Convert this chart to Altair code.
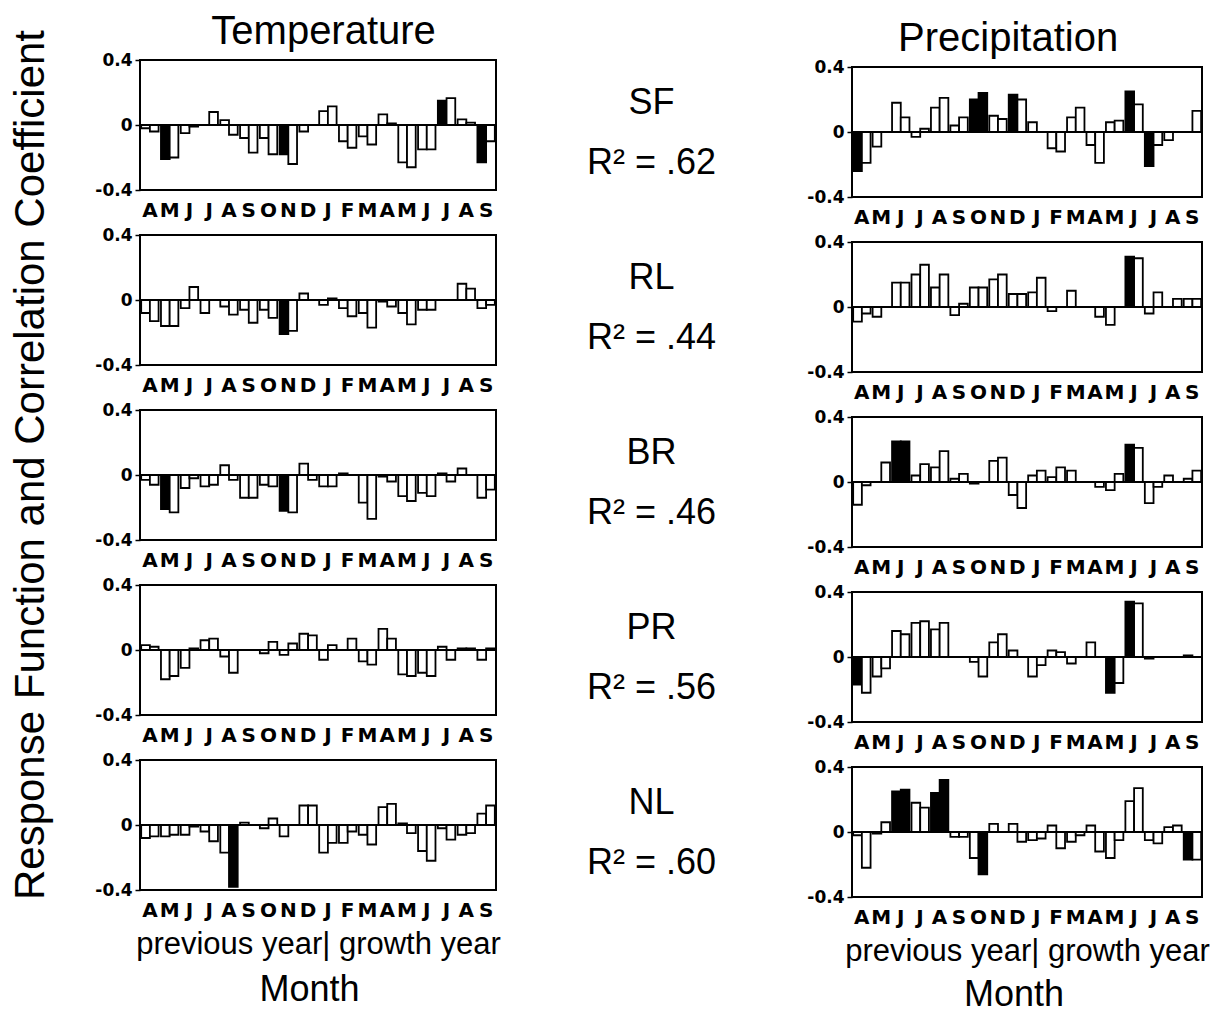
import altair as alt
import pandas as pd

FONT = "Liberation Sans"
AXFONT = "DejaVu Sans"

months = ["A", "M", "J", "J", "A", "S", "O", "N", "D", "J", "F", "M", "A", "M", "J", "J", "A", "S"]
sites = ["SF", "RL", "BR", "PR", "NL"]
r2_values = [".62", ".44", ".46", ".56", ".60"]
y_ticks = [-0.4, -0.3, -0.2, -0.1, 0.0, 0.1, 0.2, 0.3, 0.4]

# Temperature: two bars per month (response function, correlation coefficient)
temp_SF = [-0.02, -0.04, -0.21, -0.20, -0.05, -0.01, 0.0, 0.08, 0.03, -0.06, -0.08, -0.17,
           -0.08, -0.18, -0.18, -0.24, -0.04, 0.0, 0.085, 0.115, -0.10, -0.14, -0.07, -0.12,
           0.065, 0.01, -0.23, -0.26, -0.15, -0.15, 0.15, 0.165, 0.035, 0.015, -0.23, -0.10]
temp_RL = [-0.08, -0.13, -0.16, -0.16, -0.05, 0.08, -0.08, 0.0, -0.04, -0.09, -0.06, -0.14,
           -0.06, -0.11, -0.21, -0.19, 0.04, 0.0, -0.03, 0.01, -0.05, -0.10, -0.08, -0.17,
           -0.01, -0.04, -0.08, -0.15, -0.06, -0.06, 0.0, 0.0, 0.10, 0.07, -0.05, -0.03]
temp_BR = [-0.03, -0.06, -0.21, -0.23, -0.08, -0.02, -0.07, -0.06, 0.06, -0.03, -0.14, -0.14,
           -0.06, -0.07, -0.22, -0.23, 0.07, -0.03, -0.07, -0.07, 0.01, 0.0, -0.17, -0.27,
           -0.01, -0.04, -0.13, -0.16, -0.11, -0.13, 0.01, -0.04, 0.04, 0.0, -0.14, -0.09]
temp_PR = [0.03, 0.02, -0.18, -0.16, -0.11, 0.01, 0.06, 0.07, -0.04, -0.14, 0.0, 0.0,
           -0.02, 0.05, -0.03, 0.04, 0.10, 0.09, -0.06, 0.03, 0.0, 0.07, -0.07, -0.09,
           0.13, 0.07, -0.15, -0.16, -0.14, -0.16, 0.02, -0.06, 0.01, 0.01, -0.06, 0.01]
temp_NL = [-0.08, -0.07, -0.07, -0.06, -0.06, -0.01, -0.04, -0.10, -0.17, -0.38, 0.015, 0.0,
           -0.02, 0.04, -0.07, 0.0, 0.12, 0.12, -0.17, -0.11, -0.11, -0.04, -0.06, -0.12,
           0.11, 0.13, 0.01, -0.05, -0.16, -0.22, -0.02, -0.09, -0.06, -0.05, 0.07, 0.12]

# Precipitation
prec_SF = [-0.24, -0.19, -0.09, 0.0, 0.18, 0.09, -0.03, 0.02, 0.15, 0.21, 0.04, 0.09,
           0.20, 0.24, 0.10, 0.08, 0.23, 0.20, 0.06, 0.0, -0.10, -0.12, 0.09, 0.15,
           -0.08, -0.19, 0.06, 0.07, 0.25, 0.17, -0.21, -0.08, -0.05, 0.0, 0.0, 0.13]
prec_RL = [-0.09, -0.04, -0.06, 0.0, 0.15, 0.15, 0.20, 0.26, 0.12, 0.20, -0.05, 0.02,
           0.12, 0.12, 0.17, 0.20, 0.08, 0.08, 0.09, 0.18, -0.025, 0.0, 0.10, 0.0,
           0.0, -0.06, -0.11, 0.0, 0.31, 0.30, -0.04, 0.09, 0.0, 0.05, 0.05, 0.05]
prec_BR = [-0.14, -0.02, 0.0, 0.12, 0.25, 0.25, 0.04, 0.11, 0.09, 0.19, 0.02, 0.05,
           -0.01, 0.0, 0.13, 0.15, -0.08, -0.16, 0.04, 0.07, 0.03, 0.09, 0.07, 0.0,
           0.0, -0.03, -0.05, 0.05, 0.23, 0.21, -0.13, -0.03, 0.04, 0.0, 0.02, 0.07]
prec_PR = [-0.17, -0.22, -0.12, -0.07, 0.16, 0.14, 0.21, 0.22, 0.17, 0.21, 0.0, 0.0,
           -0.03, -0.12, 0.09, 0.14, 0.04, 0.0, -0.12, -0.05, 0.04, 0.03, -0.04, 0.0,
           0.09, 0.0, -0.22, -0.16, 0.34, 0.33, -0.01, 0.0, 0.0, 0.0, 0.01, 0.0]
prec_NL = [-0.02, -0.22, -0.01, 0.06, 0.25, 0.26, 0.18, 0.15, 0.24, 0.32, -0.03, -0.03,
           -0.16, -0.26, 0.05, 0.0, 0.05, -0.06, -0.05, -0.04, 0.04, -0.10, -0.06, -0.02,
           0.04, -0.12, -0.16, -0.05, 0.19, 0.27, -0.05, -0.07, 0.03, 0.04, -0.17, -0.17]

# indices of significant (filled) bars
temp_sig = {"SF": [2, 14, 30, 34], "RL": [14], "BR": [2, 14], "PR": [], "NL": [9]}
prec_sig = {"SF": [0, 12, 13, 16, 28, 30], "RL": [28], "BR": [4, 5, 28],
            "PR": [0, 26, 28], "NL": [4, 5, 8, 9, 13, 34]}

temp_vals = {"SF": temp_SF, "RL": temp_RL, "BR": temp_BR, "PR": temp_PR, "NL": temp_NL}
prec_vals = {"SF": prec_SF, "RL": prec_RL, "BR": prec_BR, "PR": prec_PR, "NL": prec_NL}

Y_TITLE = "Response Function and Correlation Coefficient"
BOTTOM_AXIS = "previous year| growth year"

MONTH_JS = "[" + ",".join("'%s'" % m for m in months) + "]"
PANEL_H = 130
SPACING = 4
MID_SPACING = 19
X_LABEL = dict(labelFont=AXFONT, labelFontWeight="bold", labelFontSize=20, labelPadding=10)


def bar_frame(vals, sig):
    return pd.DataFrame({
        "m": [i // 2 for i in range(len(vals))],
        "s": [i % 2 for i in range(len(vals))],
        "v": vals,
        "sig": ["sig" if i in sig else "ns" for i in range(len(vals))],
    })


def panel(vals, sig, width, xtitle=None):
    df = bar_frame(vals, sig)
    xa = dict(labelExpr=MONTH_JS + "[datum.value]", labelAngle=0, ticks=False, domain=False,
              grid=False, labelOverlap=False, labelColor="black", **X_LABEL)
    if xtitle:
        xa.update(title=xtitle, titleFont=FONT, titleFontSize=31, titleFontWeight="normal",
                  titlePadding=9, titleColor="black")
    else:
        xa.update(title=None)
    x = alt.X("m:O", scale=alt.Scale(paddingInner=0.12, paddingOuter=0.06), axis=alt.Axis(**xa))
    y = alt.Y("v:Q", scale=alt.Scale(domain=[-0.4, 0.4], nice=False),
              axis=alt.Axis(values=y_ticks, title=None, grid=False, domain=False,
                            labelExpr="round(datum.value*10) % 2 == 0 ? '' + round(datum.value*10)/10 : ''",
                            labelOverlap=False, tickSize=5, tickWidth=1.5, tickColor="black",
                            labelFont=AXFONT, labelFontSize=17, labelFontWeight="bold",
                            labelPadding=3, labelColor="black"))
    bars = alt.Chart(df).mark_bar(stroke="black", strokeWidth=1.8).encode(
        x=x,
        xOffset=alt.XOffset("s:O", scale=alt.Scale(paddingInner=0, paddingOuter=0)),
        y=y,
        y2=alt.datum(0),
        fill=alt.Fill("sig:N", scale=alt.Scale(domain=["ns", "sig"], range=["white", "black"]),
                      legend=None),
    )
    zero = alt.Chart(df).mark_rule(color="black", strokeWidth=2).encode(y=alt.datum(0))
    return alt.layer(bars, zero).properties(width=width, height=PANEL_H)


def mid_cell(name, r2):
    df = pd.DataFrame({"k": [0], "name": [name], "r2": ["R\u00b2 = " + r2]})
    x = alt.X("k:O", axis=alt.Axis(labelColor="transparent", ticks=False, domain=False,
                                   title=None, **X_LABEL))
    base = alt.Chart(df).encode(x=x)
    t1 = base.mark_text(font=FONT, fontSize=36, dy=-22, dx=-2, color="black").encode(text="name:N")
    t2 = base.mark_text(font=FONT, fontSize=36, dy=38, dx=-2, color="black").encode(text="r2:N")
    return alt.layer(t1, t2).properties(width=221, height=PANEL_H,
                                        view=alt.ViewBackground(stroke="transparent"))


def title(text, orient="top", offset=0, dx=0, dy=0, size=40):
    return alt.TitleParams(text=text, orient=orient, font=FONT, fontSize=size,
                           fontWeight="normal", color="black", offset=offset, dx=dx, dy=dy,
                           anchor="middle")


def spacer(width, height):
    return alt.Chart(pd.DataFrame({"t": [0]})).mark_rule(strokeOpacity=0).encode(
        y=alt.value(0)).properties(width=width, height=height,
                                   view=alt.ViewBackground(stroke="transparent"))


def column(vals, sig, width, top_text, dx_top, dy_top, shift, dx_month, month_offset):
    panels = [panel(vals[s], sig[s], width, BOTTOM_AXIS if i == len(sites) - 1 else None)
              for i, s in enumerate(sites)]
    inner = alt.vconcat(*panels, spacing=SPACING,
                        title=title("Month", orient="bottom", offset=month_offset,
                                    dx=dx_month, size=36))
    if shift:
        inner = alt.vconcat(spacer(width, 2), inner, spacing=shift - 2, bounds="flush")
    return alt.vconcat(inner, title=title(top_text, offset=0, dx=dx_top, dy=dy_top))


temp_col = column(temp_vals, temp_sig, 356, "Temperature", 26, 2, 0, 12, 13)
prec_col = column(prec_vals, prec_sig, 350, "Precipitation", 0, 2, 7, 6, 11)

mid_col = alt.vconcat(*[mid_cell(s, r) for s, r in zip(sites, r2_values)], spacing=MID_SPACING)

ytitle = alt.Chart(pd.DataFrame({"t": [Y_TITLE]})).mark_text(
    angle=270, font=FONT, fontSize=42, color="black").encode(text="t:N").properties(
    width=41, height=810, view=alt.ViewBackground(stroke="transparent"))

chart = alt.hconcat(ytitle, temp_col, mid_col, prec_col, spacing=40,
                    padding={"top": 4, "left": 0, "right": 0, "bottom": 0}).configure_view(
    stroke="black", strokeWidth=2)

chart.save("out.html", embed_options={"renderer": "svg", "actions": False})
